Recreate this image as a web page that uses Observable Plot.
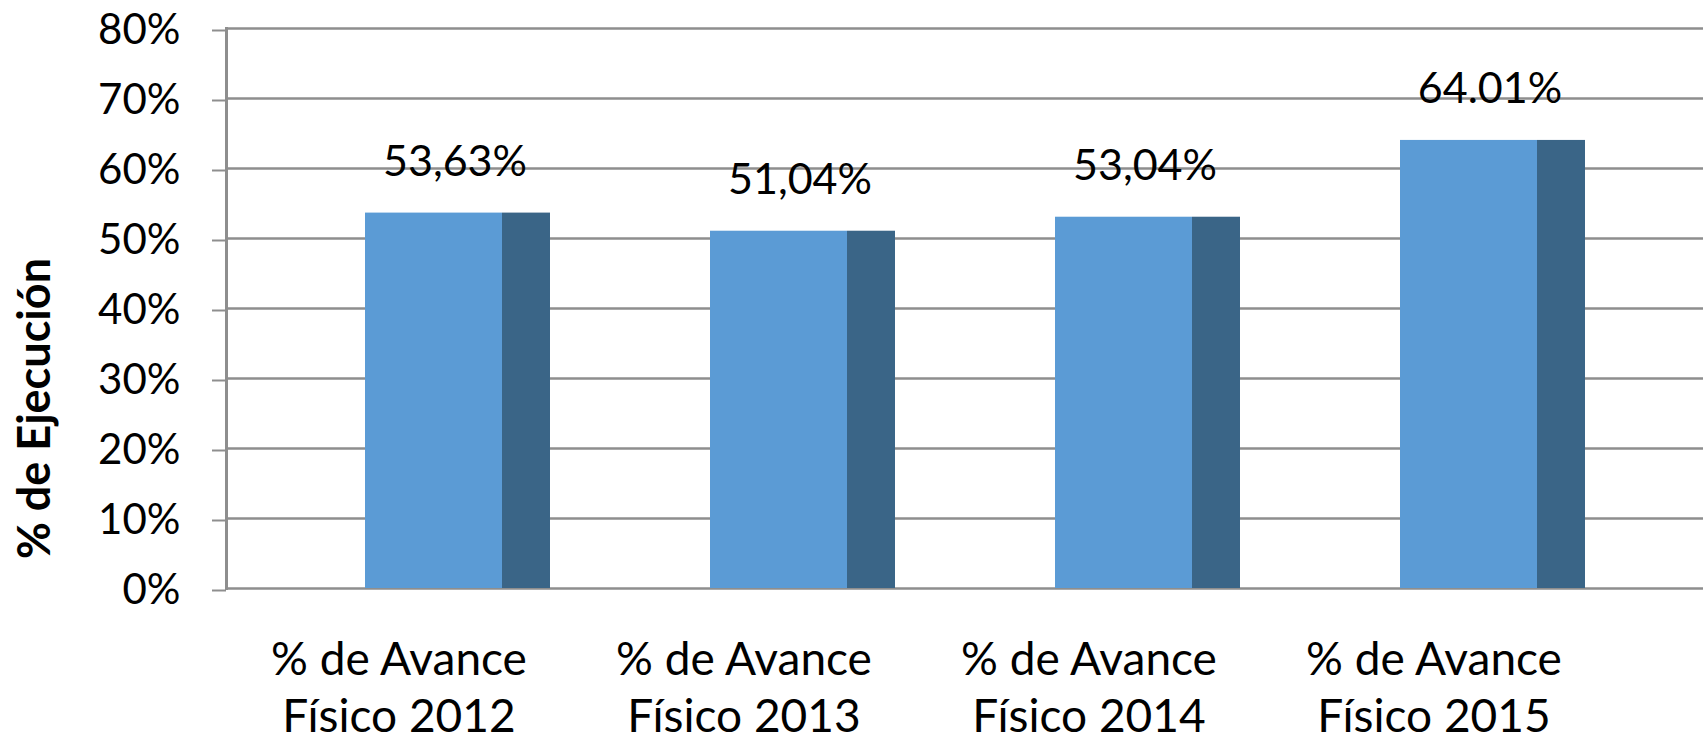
<!DOCTYPE html>
<html>
<head>
<meta charset="utf-8">
<script src="https://cdn.jsdelivr.net/npm/d3@7"></script>
<script src="https://cdn.jsdelivr.net/npm/@observablehq/plot@0.6"></script>
<style>
  html, body { margin: 0; padding: 0; background: #ffffff; }
  #chart { width: 1703px; height: 744px; overflow: hidden; }
</style>
</head>
<body>
<div id="chart"></div>
<script>
// ---- data ----
const categories = ["% de Avance Físico 2012", "% de Avance Físico 2013", "% de Avance Físico 2014", "% de Avance Físico 2015"];
const values = [53.63, 51.04, 53.04, 64.01];
const valueLabels = ["53,63%", "51,04%", "53,04%", "64.01%"];
const yTicks = [0, 10, 20, 30, 40, 50, 60, 70, 80];
const yTitle = "% de Ejecución";

const data = categories.map((c, i) => ({cat: c, value: values[i], label: valueLabels[i]}));

const font = "Lato, 'Open Sans', sans-serif";
const grid = "#8e8e8e";

const chart = Plot.plot({
  width: 1703,
  height: 744,
  marginLeft: 226,
  marginRight: 0,
  marginTop: 28,
  marginBottom: 156,
  style: {fontFamily: font, background: "transparent", color: "#000", overflow: "visible"},
  x: {domain: categories, range: [226, 1606], padding: 0},
  y: {domain: [0, 80]},
  marks: [
    Plot.ruleY(yTicks, {stroke: grid, strokeWidth: 2.5}),
    Plot.frame({anchor: "left", stroke: grid, strokeWidth: 3}),
    Plot.barY(data, {x: "cat", y: "value", fill: "#5B9BD5", insetLeft: 139, insetRight: 69}),
    Plot.barY(data, {x: "cat", y: "value", fill: "#3A6587", insetLeft: 276, insetRight: 21}),
    Plot.text(data, {x: "cat", y: "value", text: "label", dx: 56, dy: -37, lineAnchor: "bottom", fontSize: 43, fill: "#000"}),
    Plot.axisY({ticks: yTicks, tickSize: 14, tickPadding: 32, stroke: grid, strokeWidth: 2, tickFormat: d => d + "%", fontSize: 42, dy: 2, label: null}),
    Plot.axisX({tickSize: 0, tickPadding: 46, fontSize: 46, lineHeight: 1.24, tickFormat: d => d.replace(" Físico", "\nFísico"), label: null}),
    Plot.text([yTitle], {frameAnchor: "left", textAnchor: "middle", rotate: -90, dx: -191, dy: 100, fontSize: 45, fontWeight: "bold", fill: "#000"})
  ]
});
document.getElementById("chart").appendChild(chart);
</script>
</body>
</html>
